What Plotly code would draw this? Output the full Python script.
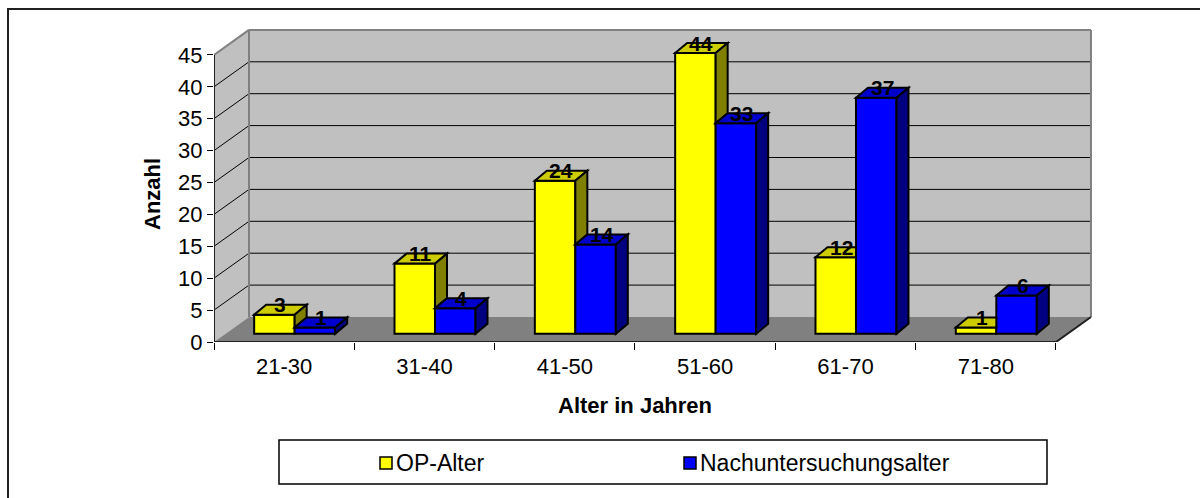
import plotly.graph_objects as go

# ---- data -------------------------------------------------------------
categories = ["21-30", "31-40", "41-50", "51-60", "61-70", "71-80"]
op_alter = [3, 11, 24, 44, 12, 1]
nachuntersuchungsalter = [1, 4, 14, 33, 37, 6]
series_names = ["OP-Alter", "Nachuntersuchungsalter"]
y_tick_values = [0, 5, 10, 15, 20, 25, 30, 35, 40, 45]
y_axis_title = "Anzahl"
x_axis_title = "Alter in Jahren"

# ---- page / plot geometry (pixels) -----------------------------------
W, H = 1200, 498
L, R, T, B = 214, 100, 20, 156
PW, PH = W - L - R, H - T - B
CAT_PX = 140.33          # width of one category on the front axis
UNIT_PX = 6.38           # height of one count unit
N = len(categories)
Y_TOP = y_tick_values[-1]

x_max = PW / CAT_PX
y_max = PH / UNIT_PX

# box depth (offset of back wall), in data units
DX, DY = 35 / CAT_PX, 25 / UNIT_PX
# row of bars sits part way into the box
SX, SY = 10.5 / CAT_PX, 8.2 / UNIT_PX
# depth of a single bar
BDX, BDY = 12 / CAT_PX, 10 / UNIT_PX
BW = 40.5 / CAT_PX

FONT = "Liberation Sans, Arial, sans-serif"
YELLOW, YELLOW_TOP, YELLOW_SIDE = "#FFFF00", "#CCCC00", "#808000"
BLUE, BLUE_TOP, BLUE_SIDE = "#0000FF", "#0000CC", "#000080"
WALL, FLOOR, EDGE = "#C0C0C0", "#808080", "#808080"


def px_x(p):
    return (p - L) / PW


def px_y(p):
    return (H - B - p) / PH


def poly(points):
    return "M " + " L ".join(f"{x:.5f},{y:.5f}" for x, y in points) + " Z"


shapes = []

# outer chart frame
shapes.append(dict(type="rect", xref="paper", yref="paper",
                   x0=px_x(8), y0=px_y(9), x1=px_x(1215), y1=px_y(515),
                   line=dict(color="#202020", width=2), layer="below"))

# walls and floor
shapes.append(dict(type="path", xref="x", yref="y", layer="below",
                   path=poly([(0, 0), (DX, DY), (DX, Y_TOP + DY), (0, Y_TOP)]),
                   fillcolor=WALL, line=dict(width=0)))
shapes.append(dict(type="rect", xref="x", yref="y", layer="below",
                   x0=DX, y0=DY, x1=N + DX, y1=Y_TOP + DY,
                   fillcolor=WALL, line=dict(width=0)))
shapes.append(dict(type="path", xref="x", yref="y", layer="below",
                   path=poly([(0, 0), (N, 0), (N + DX, DY), (DX, DY)]),
                   fillcolor=FLOOR, line=dict(width=0)))

# gridlines on side and back wall
for v in y_tick_values[1:-1]:
    shapes.append(dict(type="line", xref="x", yref="y", layer="below",
                       x0=0, y0=v, x1=DX, y1=v + DY,
                       line=dict(color="black", width=1)))
    shapes.append(dict(type="line", xref="x", yref="y", layer="below",
                       x0=DX, y0=v + DY, x1=N + DX, y1=v + DY,
                       line=dict(color="black", width=1)))

# wall outlines
for (xa, ya, xb, yb) in [(0, Y_TOP, DX, Y_TOP + DY),
                         (DX, Y_TOP + DY, N + DX, Y_TOP + DY),
                         (N + DX, Y_TOP + DY, N + DX, DY),
                         (DX, DY, DX, Y_TOP + DY)]:
    shapes.append(dict(type="line", xref="x", yref="y", layer="below",
                       x0=xa, y0=ya, x1=xb, y1=yb,
                       line=dict(color=EDGE, width=2)))

# front edges of the box
for (xa, ya, xb, yb) in [(0, 0, 0, Y_TOP), (0, 0, N, 0), (N, 0, N + DX, DY)]:
    shapes.append(dict(type="line", xref="x", yref="y", layer="below",
                       x0=xa, y0=ya, x1=xb, y1=yb,
                       line=dict(color="#202020", width=2)))

# ---- bars ---------------------------------------------------------------
centers = [i + 0.5 + SX for i in range(N)]
x_op = [c - BW / 2 for c in centers]
x_nu = [c + BW / 2 for c in centers]

traces = [
    go.Bar(x=x_op, y=op_alter, base=SY, width=BW, name=series_names[0],
           marker=dict(color=YELLOW, line=dict(color="black", width=2))),
    go.Bar(x=x_nu, y=nachuntersuchungsalter, base=SY, width=BW, name=series_names[1],
           marker=dict(color=BLUE, line=dict(color="black", width=2))),
]

outline = dict(color="black", width=2)
annotations = []
for i in range(N):
    vy, vb = op_alter[i], nachuntersuchungsalter[i]
    ty, tb = vy + SY, vb + SY
    x0 = x_op[i] - BW / 2
    x1 = x_op[i] + BW / 2          # shared edge of both bars
    x2 = x_nu[i] + BW / 2

    # top face of the yellow bar (right part hidden if the blue bar is taller)
    if ty > tb:
        top_pts = [(x0, ty), (x1, ty), (x1 + BDX, ty + BDY), (x0 + BDX, ty + BDY)]
    else:
        top_pts = [(x0, ty), (x1, ty), (x1, ty + BDY), (x0 + BDX, ty + BDY)]
    shapes.append(dict(type="path", xref="x", yref="y", layer="above",
                       path=poly(top_pts), fillcolor=YELLOW_TOP, line=outline))
    # visible part of the yellow side face
    if ty > tb:
        shapes.append(dict(type="path", xref="x", yref="y", layer="above",
                           path=poly([(x1, tb), (x1, ty), (x1 + BDX, ty + BDY),
                                      (x1 + BDX, tb + BDY)]),
                           fillcolor=YELLOW_SIDE, line=outline))
    # blue top and side faces
    shapes.append(dict(type="path", xref="x", yref="y", layer="above",
                       path=poly([(x1, tb), (x2, tb), (x2 + BDX, tb + BDY),
                                  (x1 + BDX, tb + BDY)]),
                       fillcolor=BLUE_TOP, line=outline))
    shapes.append(dict(type="path", xref="x", yref="y", layer="above",
                       path=poly([(x2, SY), (x2, tb), (x2 + BDX, tb + BDY),
                                  (x2 + BDX, SY + BDY)]),
                       fillcolor=BLUE_SIDE, line=outline))

    # value labels
    for xc, v in [(x_op[i], vy), (x_nu[i], vb)]:
        annotations.append(dict(x=xc + BDX / 2, y=v + SY + BDY, xref="x", yref="y",
                                text=str(v), showarrow=False, yanchor="middle",
                                font=dict(family=FONT, size=21, color="black",
                                          weight="bold")))

# ---- axis titles ----------------------------------------------------------
annotations.append(dict(x=px_x(635), y=px_y(405), xref="paper", yref="paper",
                        text=x_axis_title, showarrow=False,
                        xanchor="center", yanchor="middle",
                        font=dict(family=FONT, size=22, color="black", weight="bold")))
annotations.append(dict(x=px_x(152), y=px_y(194), xref="paper", yref="paper",
                        text=y_axis_title, showarrow=False, textangle=-90,
                        xanchor="center", yanchor="middle",
                        font=dict(family=FONT, size=22, color="black", weight="bold")))

# ---- legend box ---------------------------------------------------------------
shapes.append(dict(type="rect", xref="paper", yref="paper",
                   x0=px_x(279), y0=px_y(440), x1=px_x(1047), y1=px_y(484),
                   fillcolor="white", line=dict(color="black", width=1.5)))
for sx, color, label in [(380, YELLOW, series_names[0]), (684, BLUE, series_names[1])]:
    shapes.append(dict(type="rect", xref="paper", yref="paper",
                       x0=px_x(sx), y0=px_y(457), x1=px_x(sx + 12), y1=px_y(469),
                       fillcolor=color, line=dict(color="black", width=1.5)))
    annotations.append(dict(x=px_x(sx + 14), y=px_y(463), xref="paper", yref="paper",
                            text=label, showarrow=False,
                            xanchor="left", yanchor="middle",
                            font=dict(family=FONT, size=23, color="black")))

fig = go.Figure(traces)
fig.update_layout(
    width=W, height=H,
    margin=dict(l=L, r=R, t=T, b=B, pad=0),
    paper_bgcolor="white", plot_bgcolor="white",
    barmode="overlay", showlegend=False,
    shapes=shapes, annotations=annotations,
    font=dict(family=FONT, size=22, color="black"),
    xaxis=dict(range=[0, x_max], showgrid=False, zeroline=False, showline=False,
               tickmode="array", tickvals=[i + 0.5 for i in range(N)],
               ticktext=categories, ticks="", ticklabelstandoff=9,
               tickfont=dict(family=FONT, size=22, color="black"),
               minor=dict(tickmode="array", tickvals=list(range(N + 1)),
                          ticks="outside", ticklen=7, tickwidth=1,
                          tickcolor="black", showgrid=False)),
    yaxis=dict(range=[0, y_max], showgrid=False, zeroline=False, showline=False,
               tickmode="array", tickvals=y_tick_values,
               ticks="outside", ticklen=6, tickwidth=1, tickcolor="black",
               tickfont=dict(family=FONT, size=22, color="black")),
)

fig.write_html("out.html")
